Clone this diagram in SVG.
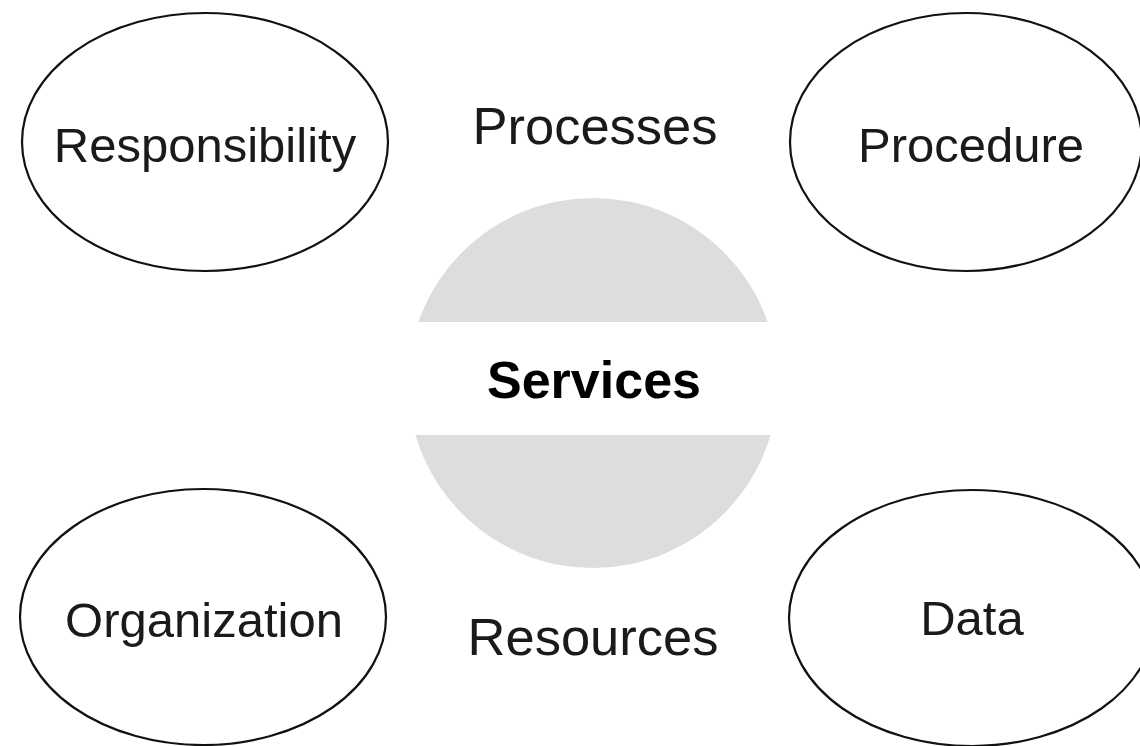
<svg xmlns="http://www.w3.org/2000/svg" width="1140" height="746" viewBox="0 0 1140 746">
<defs>
<style>
.node{fill:#ffffff;stroke:#111111;stroke-width:2.2}
.lbl{font-family:"Liberation Sans",Arial,sans-serif;font-size:49px;fill:#1a1a1a;text-anchor:middle}
.big{font-size:52.5px}
.bold{font-family:"Liberation Sans",Arial,sans-serif;font-size:52px;font-weight:bold;fill:#000000;text-anchor:middle}
</style>
<clipPath id="cc"><circle cx="593" cy="383" r="185"/></clipPath>
</defs>
<rect width="1140" height="746" fill="#ffffff"/>
<g id="services">
<g clip-path="url(#cc)">
<rect x="400" y="190" width="390" height="132" fill="#dcdddf"/>
<rect x="400" y="435" width="390" height="140" fill="#dcdddf"/>
</g>
<text class="bold" x="594" y="398">Services</text>
</g>
<g id="responsibility">
<ellipse class="node" cx="205" cy="142" rx="183" ry="129"/>
<text class="lbl" x="205" y="162">Responsibility</text>
</g>
<g id="procedure">
<ellipse class="node" cx="966" cy="142" rx="176" ry="129"/>
<text class="lbl" x="971" y="162">Procedure</text>
</g>
<g id="organization">
<ellipse class="node" cx="203" cy="617" rx="183" ry="128"/>
<text class="lbl" x="204" y="637">Organization</text>
</g>
<g id="data">
<ellipse class="node" cx="972" cy="618" rx="183" ry="128"/>
<text class="lbl" x="972" y="635">Data</text>
</g>
<g id="processes">
<text class="lbl big" x="595" y="144">Processes</text>
</g>
<g id="resources">
<text class="lbl big" x="593" y="655">Resources</text>
</g>
<g id="connectors"></g>
</svg>
